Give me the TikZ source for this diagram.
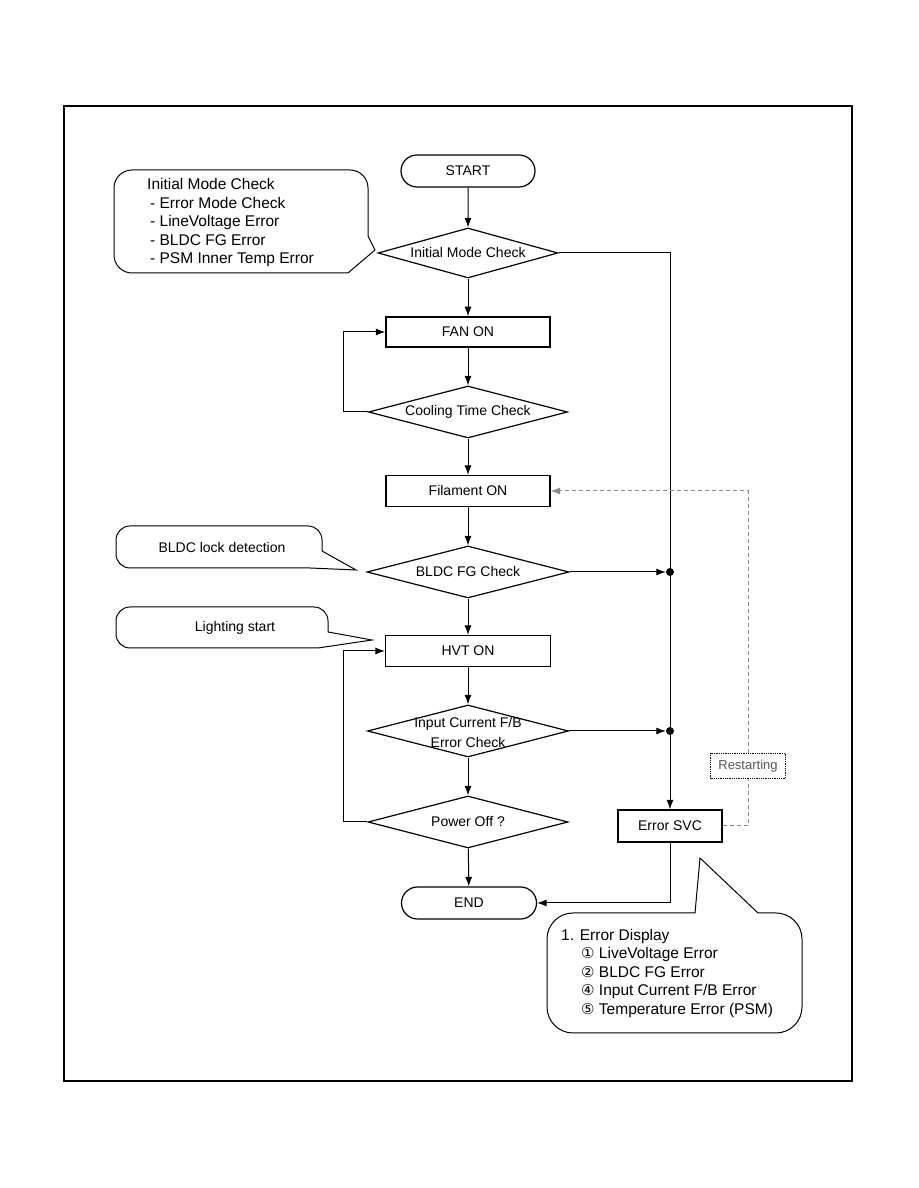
\documentclass[tikz,border=0pt]{standalone}
\usepackage{fontspec}
\setmainfont{Liberation Sans}
\newfontfamily\circfont{DejaVu Sans}
\usetikzlibrary{
  arrows.meta,
  shapes.geometric,
  shapes.misc
}
\definecolor{restartgray}{HTML}{8A8A8A}
\definecolor{restarttext}{HTML}{555555}
\tikzset{
  >={Latex[length=9.5pt,width=7pt]},
  line/.style={draw=black, line width=1pt, ->},
  conn/.style={draw=black, line width=1pt},
  block/.style={
    draw=black,
    fill=white,
    rectangle,
    line width=1.2pt,
    inner sep=0pt,
    align=center,
    font=\fontsize{14}{20}\selectfont
  },
  procbox/.style={block, minimum width=164pt, minimum height=30pt},
  terminal/.style={block, rounded rectangle, minimum width=134pt, minimum height=32pt},
  decision/.style={block, diamond, aspect=4, minimum width=200pt, minimum height=52pt},
  junction/.style={circle, fill=black, inner sep=0pt, minimum size=8pt},
  callout/.style={draw=black, line width=1pt, fill=white},
  notetext/.style={font=\fontsize{15.5}{18.5}\selectfont, align=left, inner sep=0pt},
  restartline/.style={draw=restartgray, line width=1pt, dash pattern=on 4pt off 3pt},
  restartbox/.style={draw=black, densely dotted, line width=0.8pt, fill=white,
    minimum width=75pt, minimum height=25pt, inner sep=0pt,
    text=restarttext, font=\fontsize{13}{15}\selectfont}
}

\begin{document}
\begin{tikzpicture}[x=1pt, y=1pt]
  \useasboundingbox (0,0) rectangle (918,1188);
  \draw[line width=1.4pt] (64,107) rectangle (852,1082);

  % main flow
  \node[terminal] (start) at (468,1017) {START};
  \node[decision, minimum width=180pt, minimum height=50pt] (init) at (468,935) {Initial Mode Check};
  \node[procbox, line width=1.5pt] (fan) at (468,856) {FAN ON};
  \node[decision, minimum width=199pt] (cool) at (468,776) {Cooling Time Check};
  \node[procbox, minimum height=31pt] (fil) at (468,697) {Filament ON};
  \node[decision, minimum width=202pt] (bldc) at (468,616) {BLDC FG Check};
  \node[procbox, minimum width=165pt, minimum height=31pt] (hvt) at (468,537) {HVT ON};
  \node[decision, minimum width=201pt] (cur) at (468,457) {};
  \node[block, draw=none, fill=none] (curtext) at (468,455) {Input Current F/B\\Error Check};
  \node[decision] (pwr) at (468,366) {Power Off ?};
  \node[terminal, minimum width=135pt] (end) at (469,285) {END};

  % error branch
  \node[block, minimum width=104pt, minimum height=32pt] (esvc) at (670,362) {Error SVC};
  \node[junction] (dotA) at (esvc.north |- bldc.east) {};
  \node[junction] (dotB) at (esvc.north |- cur.east) {};
  \node[restartbox] (restarting) at (748,422) {Restarting};
  \coordinate (loopL) at (343,0);

  \draw[line] (start) -- (init);
  \draw[line] (init) -- (fan);
  \draw[line] (fan) -- (cool);
  \draw[line] (cool) -- (fil);
  \draw[line] (fil) -- (bldc);
  \draw[line] (bldc) -- (hvt);
  \draw[line] (hvt) -- (cur);
  \draw[line] (cur) -- (pwr);
  \draw[line] (pwr) -- (end);

  \draw[line] (cool.west) -- (cool.west -| loopL) |- (fan.west);
  \draw[line] (pwr.west) -- (pwr.west -| loopL) |- (hvt.west);

  \draw[line] (init.east) -| (esvc.north);
  \draw[line] (bldc.east) -- (dotA);
  \draw[line] (cur.east) -- (dotB);
  \draw[line] (esvc.south) |- (end.east);

  \draw[restartline] (esvc.east) -| (restarting.south);
  \draw[restartline, ->] (restarting.north) |- (fil.east);

  % callouts
  \draw[callout] (132,1018) -- (350,1018) arc[start angle=90, end angle=0, radius=18]
    -- (368,952) -- (375,938) -- (348,915) -- (132,915)
    arc[start angle=270, end angle=180, radius=18] -- (114,1000)
    arc[start angle=180, end angle=90, radius=18] -- cycle;
  \node[notetext, anchor=west] (initnote) at (147,965)
    {Initial Mode Check\\
     \hspace{3pt}- Error Mode Check\\
     \hspace{3pt}- LineVoltage Error\\
     \hspace{3pt}- BLDC FG Error\\
     \hspace{3pt}- PSM Inner Temp Error};

  \draw[callout] (130,662) -- (308,662) arc[start angle=90, end angle=0, radius=14]
    -- (322,637) -- (356,618) -- (310,620) -- (130,620)
    arc[start angle=270, end angle=180, radius=14] -- (116,648)
    arc[start angle=180, end angle=90, radius=14] -- cycle;
  \node[block, draw=none, fill=none] (bldcnote) at (222,640) {BLDC lock detection};

  \draw[callout] (130,581) -- (314,581) arc[start angle=90, end angle=0, radius=14]
    -- (328,556) -- (372,548) -- (318,540) -- (130,540)
    arc[start angle=270, end angle=180, radius=14] -- (116,567)
    arc[start angle=180, end angle=90, radius=14] -- cycle;
  \node[block, draw=none, fill=none] (lightnote) at (235,560) {Lighting start};

  \draw[callout] (573,275) -- (695,275) -- (700,330) -- (758,275) -- (776,275)
    arc[start angle=90, end angle=0, radius=26] -- (802,181)
    arc[start angle=0, end angle=-90, radius=26] -- (573,155)
    arc[start angle=270, end angle=180, radius=26] -- (547,249)
    arc[start angle=180, end angle=90, radius=26] -- cycle;
  \node[notetext, anchor=west] (errnote) at (561,215)
    {1. Error Display\\
     \hspace{20pt}{\circfont\fontsize{15}{18.5}\selectfont ①} LiveVoltage Error\\
     \hspace{20pt}{\circfont\fontsize{15}{18.5}\selectfont ②} BLDC FG Error\\
     \hspace{20pt}{\circfont\fontsize{15}{18.5}\selectfont ④} Input Current F/B Error\\
     \hspace{20pt}{\circfont\fontsize{15}{18.5}\selectfont ⑤} Temperature Error (PSM)};
\end{tikzpicture}
\end{document}
